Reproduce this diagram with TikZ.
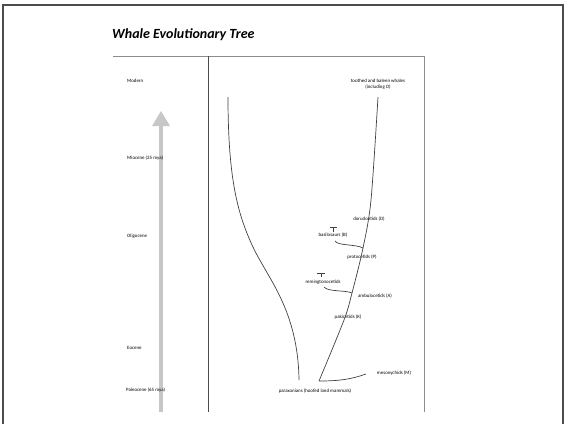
\documentclass[tikz,border=0pt]{standalone}
\usepackage{fontspec}
\setmainfont{Carlito}
\begin{document}
\begin{tikzpicture}[x=1pt,y=-1pt,
  frame/.style={draw=black!70,line width=1.3pt},
  rule/.style={draw=black!45,line width=0.9pt},
  divider/.style={draw=black!70,line width=0.9pt},
  era/.style={anchor=west,inner sep=0pt,font=\fontsize{4.9}{5.5}\selectfont,text=black},
  lab/.style={inner sep=0pt,font=\fontsize{4.9}{5.5}\selectfont,text=black,align=center},
  branch/.style={draw=black!75,line width=0.7pt},
  extinct/.style={draw=black!75,line width=0.6pt}]
\useasboundingbox (0,0) rectangle (564,424);
% outer frame
\draw[frame] (3,424) -- (3,5) -- (563,5) -- (563,424);
% title
\node[anchor=west,inner sep=0pt,font=\fontsize{14}{16}\bfseries\itshape\selectfont] (title) at (112,35) {Whale Evolutionary Tree};
% rules
\draw[rule] (113,56) -- (424,56);
\draw[divider] (208,56) -- (208,412);
\draw[rule] (424,56) -- (424,412);
% time arrow
\coordinate (arrowbot) at (161,412);
\coordinate (arrowtop) at (161,124);
\draw[black!22,line width=4.5pt] (arrowbot) -- (arrowtop);
\fill[black!22] (152,126) -- (161,111) -- (170,126) -- cycle;
% eras
\node[era] (modern) at (127,81) {Modern};
\node[era] (miocene) at (127,158) {Miocene (25 mya)};
\node[era] (oligocene) at (127,236) {Oligocene};
\node[era] (eocene) at (127,348) {Eocene};
\node[era] (paleocene) at (126,390) {Paleocene (65 mya)};
% labels
\node[lab] (whales) at (378,84) {toothed and baleen whales\\(including O)};
\node[lab] (doru) at (369,219) {dorudontids (D)};
\node[lab] (basilo) at (333,235) {basilosaurs (B)};
\node[lab] (proto) at (362,257) {protocetids (P)};
\node[lab] (remi) at (323,282) {remingtonocetids};
\node[lab] (ambu) at (375,296) {ambulocetids (A)};
\node[lab] (paki) at (348,317) {pakicetids (K)};
\node[lab] (meso) at (394,373) {mesonychids (M)};
\node[lab] (parax) at (315,391) {paraxonians (hoofed land mammals)};
% tree coordinates
\coordinate (base) at (319,381);
\coordinate (t1) at (344,320);
\coordinate (jA) at (352,293);
\coordinate (jP) at (363,248);
\coordinate (t2) at (371,200);
\coordinate (top) at (378,97);
\coordinate (mesoend) at (366,374);
\coordinate (bstart) at (335,241);
\coordinate (rstart) at (324,287);
\coordinate (ltop) at (228,97);
\coordinate (lmid) at (253,247);
\coordinate (lbot) at (299,380);
% trunk
\draw[branch] plot[smooth,tension=0.5] coordinates {(base) (t1) (jA) (jP) (t2) (top)};
% mesonychid branch
\draw[branch] (base) .. controls (340,381) and (352,379) .. (mesoend);
% basilosaur branch
\draw[branch] (bstart) .. controls (338,246) and (356,244) .. (jP);
% remingtonocetid branch
\draw[branch] (rstart) .. controls (328,292) and (346,290) .. (jA);
% extinction bars
\draw[extinct] (330,227) -- (337,227) (333.5,227) -- (333.5,232);
\draw[extinct] (317,273) -- (325,273) (321,273) -- (321,277);
% left curve
\draw[branch] (ltop) .. controls (228,180) and (238,215) .. (lmid)
              .. controls (268,279) and (298,310) .. (lbot);
\end{tikzpicture}
\end{document}
